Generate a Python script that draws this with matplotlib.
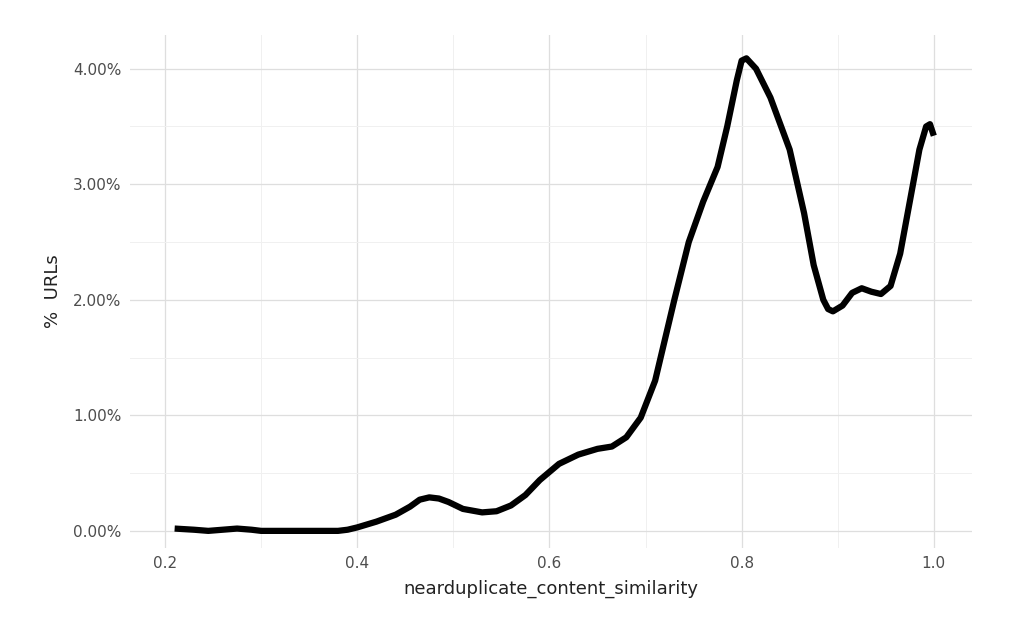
import matplotlib.pyplot as plt
from matplotlib.ticker import MultipleLocator, FuncFormatter

similarity = [0.21, 0.23, 0.245, 0.26, 0.275, 0.29, 0.30, 0.33, 0.35, 0.38, 0.39, 0.40,
              0.42, 0.44, 0.455, 0.465, 0.475, 0.485, 0.495, 0.51, 0.53, 0.545, 0.56,
              0.575, 0.59, 0.61, 0.63, 0.65, 0.665, 0.68, 0.695, 0.71, 0.73, 0.745,
              0.76, 0.775, 0.785, 0.795, 0.80, 0.805, 0.815, 0.83, 0.85, 0.865, 0.875,
              0.885, 0.89, 0.895, 0.905, 0.915, 0.925, 0.935, 0.945, 0.955, 0.965,
              0.975, 0.985, 0.992, 0.996, 1.0]
pct_urls = [0.02, 0.01, 0.0, 0.01, 0.02, 0.01, 0.0, 0.0, 0.0, 0.0, 0.01, 0.03,
            0.08, 0.14, 0.21, 0.27, 0.29, 0.28, 0.25, 0.19, 0.16, 0.17, 0.22,
            0.31, 0.44, 0.58, 0.66, 0.71, 0.73, 0.81, 0.98, 1.3, 2.0, 2.5,
            2.85, 3.15, 3.5, 3.9, 4.07, 4.09, 4.0, 3.75, 3.3, 2.75, 2.3,
            2.0, 1.92, 1.9, 1.95, 2.06, 2.1, 2.07, 2.05, 2.12, 2.4,
            2.85, 3.3, 3.5, 3.52, 3.42]

fig = plt.figure(figsize=(10.24, 6.29), dpi=100)
ax = fig.add_axes([0.127, 0.129, 0.822, 0.815])
ax.plot(similarity, pct_urls, color='black', lw=4.5, solid_capstyle='butt',
        solid_joinstyle='round')

ax.set_xlim(0.1636, 1.0395)
ax.set_ylim(-0.147, 4.29)
ax.xaxis.set_major_locator(MultipleLocator(0.2))
ax.xaxis.set_minor_locator(MultipleLocator(0.1))
ax.yaxis.set_major_locator(MultipleLocator(1.0))
ax.yaxis.set_minor_locator(MultipleLocator(0.5))
ax.xaxis.set_major_formatter(FuncFormatter(lambda v, p: f'{v:.1f}'))
ax.yaxis.set_major_formatter(FuncFormatter(lambda v, p: f'{v:.2f}%'))
ax.grid(which='major', color='#dedede', lw=0.9)
ax.grid(which='minor', color='#f0f0f0', lw=0.7)
ax.set_axisbelow(True)
for s in ax.spines.values():
    s.set_visible(False)
ax.tick_params(which='both', length=0, labelsize=11, labelcolor='#4d4d4d', pad=6)
ax.set_xlabel('nearduplicate_content_similarity', fontsize=13, color='#222222', labelpad=6)
ax.set_ylabel('%  URLs', fontsize=13, color='#222222', labelpad=8)

fig.savefig('out.png', dpi=100, facecolor='white')
